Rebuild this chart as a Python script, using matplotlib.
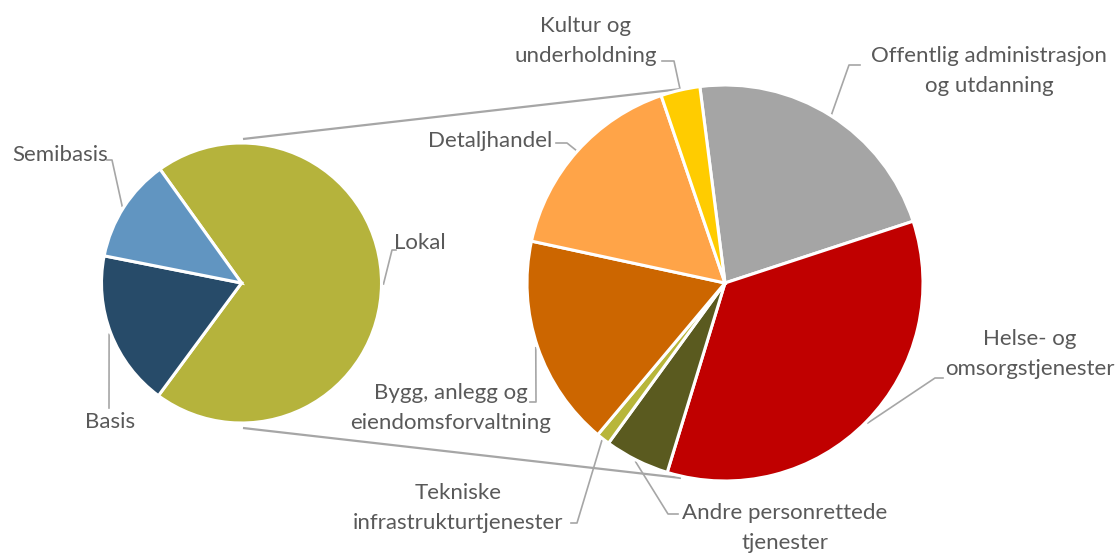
import matplotlib
matplotlib.use("Agg")
import matplotlib.pyplot as plt
import numpy as np

# primary pie (share of employment by type)
main_labels = ["Lokal", "Basis", "Semibasis"]
main_values = [70.0, 18.0, 12.0]
main_colors = ["#B5B33C", "#274B69", "#6195C1"]

# secondary pie: breakdown of "Lokal"
sub_labels = ["Offentlig administrasjon\nog utdanning", "Helse- og\nomsorgstjenester",
              "Andre personrettede\ntjenester", "Tekniske\ninfrastrukturtjenester",
              "Bygg, anlegg og\neiendomsforvaltning", "Detaljhandel", "Kultur og\nunderholdning"]
sub_values = [22.0, 34.8, 5.3, 1.1, 17.3, 16.4, 3.2]
sub_colors = ["#A5A5A5", "#C00000", "#5A5A1F", "#B8B63A", "#CC6600", "#FFA448", "#FFCC00"]

W, H = 1118, 554
TXT = "#595959"
LINE = "#A6A6A6"

def P(x, y):
    # pixel coords (top-left origin) -> axes data coords
    return x, H - y

fig = plt.figure(figsize=(W / 100, H / 100), dpi=100)
ax = fig.add_axes([0, 0, 1, 1])

c1, r1 = P(241.5, 283), 140
c2, r2 = P(725, 283), 198

wp = dict(edgecolor="white", linewidth=2.2)
w1, _ = ax.pie(main_values, colors=main_colors, startangle=125.6, counterclock=False,
               center=c1, radius=r1, wedgeprops=wp)
w2, _ = ax.pie(sub_values, colors=sub_colors, startangle=97.3, counterclock=False,
               center=c2, radius=r2, wedgeprops=wp)

ax.set_xlim(0, W)
ax.set_ylim(0, H)
ax.set_aspect("equal")
ax.axis("off")

# connector lines between the two pies
for a, b in [((243, 139), (681, 89)), ((243, 428), (681, 478))]:
    (x0, y0), (x1, y1) = P(*a), P(*b)
    ax.plot([x0, x1], [y0, y1], color=LINE, lw=1.6, solid_capstyle="butt", zorder=0)

# label text centre and leader elbow points (pixels)
layout = {
    "Semibasis": ((60, 155), [(107, 160), (112, 160)]),
    "Basis": ((110, 422), [(109, 408)]),
    "Lokal": ((420, 243), [(396, 250), (392, 250)]),
    "Offentlig administrasjon\nog utdanning": ((989, 71), [(860, 65), (849, 65)]),
    "Helse- og\nomsorgstjenester": ((1030, 354), [(943, 378), (935, 378)]),
    "Andre personrettede\ntjenester": ((785, 528), [(678, 514), (668, 514)]),
    "Tekniske\ninfrastrukturtjenester": ((458, 508), [(571, 523), (577, 523)]),
    "Bygg, anlegg og\neiendomsforvaltning": ((451, 408), [(530, 402), (536, 402)]),
    "Detaljhandel": ((490, 141), [(556, 143), (567, 143)]),
    "Kultur og\nunderholdning": ((586, 41), [(662, 61), (674, 61)]),
}

def draw_labels(wedges, labels, center, radius):
    for w, lab in zip(wedges, labels):
        mid = np.deg2rad((w.theta1 + w.theta2) / 2)
        ex = center[0] + (radius + 2) * np.cos(mid)
        ey = center[1] + (radius + 2) * np.sin(mid)
        (tx, ty), elbow = layout[lab]
        pts = [P(*p) for p in elbow] + [(ex, ey)]
        ax.plot([p[0] for p in pts], [p[1] for p in pts], color=LINE, lw=1.2, zorder=0)
        ax.text(*P(tx, ty), lab, ha="center", va="center", color=TXT,
                fontsize=16, family="Lato", linespacing=1.6)

draw_labels(w1, main_labels, c1, r1)
draw_labels(w2, sub_labels, c2, r2)

fig.savefig("out.png", dpi=100)
